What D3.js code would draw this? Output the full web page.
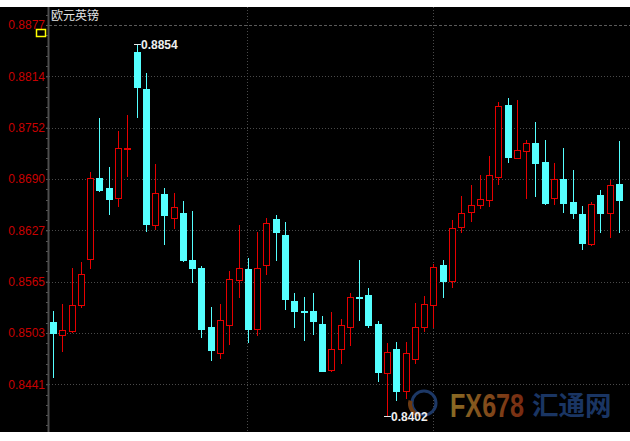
<!DOCTYPE html>
<html>
<head>
<meta charset="utf-8">
<script src="https://cdn.jsdelivr.net/npm/d3@7"></script>
<style>
  html, body { margin: 0; padding: 0; background: #ffffff; }
  svg { display: block; }
</style>
</head>
<body>
<div id="chart"></div>
<script>
// ---- data ----
const title = "欧元英镑";
const opens  = [0.8516,0.8501,0.8505,0.8537,0.8593,0.8691,0.8679,0.8667,0.8727,0.8844,
                0.8799,0.8634,0.8671,0.8642,0.8649,0.8592,0.8582,0.8510,0.8479,0.8512,
                0.8567,0.8580,0.8508,0.8585,0.8641,0.8622,0.8542,0.8530,0.8530,0.8514,
                0.8458,0.8483,0.8510,0.8546,0.8549,0.8514,0.8454,0.8483,0.8433,0.8471,
                0.8510,0.8537,0.8586,0.8566,0.8632,0.8650,0.8658,0.8664,0.8692,0.8779,
                0.8715,0.8724,0.8733,0.8710,0.8667,0.8690,0.8662,0.8647,0.8611,0.8670,
                0.8649,0.8684];
const highs  = [0.8530,0.8538,0.8582,0.8589,0.8698,0.8764,0.8704,0.8748,0.8768,0.8854,
                0.8818,0.8708,0.8679,0.8673,0.8663,0.8651,0.8584,0.8534,0.8538,0.8578,
                0.8634,0.8594,0.8626,0.8642,0.8646,0.8638,0.8551,0.8546,0.8551,0.8523,
                0.8528,0.8520,0.8551,0.8592,0.8557,0.8518,0.8491,0.8492,0.8492,0.8539,
                0.8548,0.8587,0.8592,0.8640,0.8669,0.8683,0.8695,0.8718,0.8783,0.8788,
                0.8786,0.8737,0.8759,0.8737,0.8709,0.8727,0.8701,0.8657,0.8662,0.8676,
                0.8688,0.8736];
const lows   = [0.8450,0.8481,0.8504,0.8534,0.8582,0.8675,0.8647,0.8657,0.8694,0.8765,
                0.8627,0.8629,0.8611,0.8630,0.8590,0.8565,0.8498,0.8470,0.8473,0.8490,
                0.8546,0.8492,0.8500,0.8574,0.8592,0.8532,0.8510,0.8494,0.8502,0.8457,
                0.8457,0.8466,0.8488,0.8519,0.8510,0.8445,0.8402,0.8422,0.8424,0.8466,
                0.8505,0.8510,0.8547,0.8559,0.8626,0.8639,0.8655,0.8657,0.8684,0.8710,
                0.8715,0.8667,0.8669,0.8660,0.8659,0.8650,0.8643,0.8605,0.8610,0.8625,
                0.8619,0.8625];
const closes = [0.8503,0.8506,0.8537,0.8574,0.8691,0.8676,0.8665,0.8727,0.8728,0.8801,
                0.8635,0.8673,0.8646,0.8656,0.8591,0.8582,0.8508,0.8482,0.8519,0.8568,
                0.8582,0.8508,0.8582,0.8636,0.8625,0.8544,0.8530,0.8529,0.8518,0.8457,
                0.8483,0.8512,0.8547,0.8545,0.8513,0.8455,0.8480,0.8432,0.8478,0.8510,
                0.8538,0.8583,0.8566,0.8630,0.8649,0.8658,0.8665,0.8695,0.8778,0.8717,
                0.8725,0.8734,0.8709,0.8661,0.8690,0.8661,0.8649,0.8612,0.8659,0.8649,
                0.8683,0.8664];
const categories = opens.map((d, i) => i + 1);
const tickValues = [0.88767, 0.88144, 0.87521, 0.86898, 0.86275, 0.85652, 0.85029, 0.84406];
const tickLabels = ["0.8877", "0.8814", "0.8752", "0.8690", "0.8627", "0.8565", "0.8503", "0.8441"];

// ---- layout ----
const W = 630, H = 441;
const plotTop = 7, plotBottom = 432, axisX = 49;
const UP = "#e60000", DOWN = "#55ffff";

const svg = d3.select("#chart").append("svg")
  .attr("width", W).attr("height", H);

svg.append("rect").attr("x", 0).attr("y", 0).attr("width", W).attr("height", H).attr("fill", "#ffffff");
svg.append("rect").attr("x", 0).attr("y", plotTop).attr("width", W).attr("height", plotBottom - plotTop).attr("fill", "#000000");

const y = d3.scaleLinear().domain([0.84406, 0.88767]).range([384.3, 25]);
const x = d3.scalePoint().domain(categories).range([53, 619]);

// minor ticks on axis
const step = (tickValues[0] - tickValues[1]) / 5;
const minor = [];
for (let v = tickValues[0] + 3 * step; y(v) < plotBottom; v -= step) minor.push(v);
svg.append("g").selectAll("line").data(minor.filter(v => y(v) > plotTop)).join("line")
  .attr("x1", axisX - 3).attr("x2", axisX)
  .attr("y1", d => Math.round(y(d)) + 0.5).attr("y2", d => Math.round(y(d)) + 0.5)
  .attr("stroke", "#555").attr("stroke-width", 1);

// horizontal grid
svg.append("g").selectAll("line").data(tickValues).join("line")
  .attr("x1", axisX).attr("x2", W)
  .attr("y1", d => Math.round(y(d)) + 0.5).attr("y2", d => Math.round(y(d)) + 0.5)
  .attr("stroke", (d, i) => i === 0 ? "#5a5a5a" : "#4a4a4a")
  .attr("stroke-dasharray", (d, i) => i === 0 ? "3,2" : "1,2");

// vertical grid
svg.append("g").selectAll("line").data([247.5, 433.5]).join("line")
  .attr("x1", d => d).attr("x2", d => d)
  .attr("y1", plotTop).attr("y2", plotBottom)
  .attr("stroke", "#4a4a4a").attr("stroke-dasharray", "1,2");

// y axis
const axis = d3.axisLeft(y).tickValues(tickValues).tickSize(3).tickPadding(1)
  .tickFormat((d, i) => tickLabels[i]);
const gAxis = svg.append("g").attr("transform", `translate(${axisX},0)`).call(axis);
gAxis.select(".domain").remove();
gAxis.selectAll(".tick line").attr("stroke", "#555");
gAxis.selectAll(".tick text")
  .attr("fill", "#c80000")
  .attr("font-family", "'Liberation Sans', Arial, sans-serif")
  .attr("font-size", 12);
svg.append("line").attr("x1", axisX - 0.5).attr("x2", axisX - 0.5)
  .attr("y1", plotTop).attr("y2", plotBottom)
  .attr("stroke", "#4d4d4d").attr("stroke-width", 2);

// yellow marker
svg.append("rect").attr("x", 36.5).attr("y", 29.5).attr("width", 9).attr("height", 7)
  .attr("fill", "none").attr("stroke", "#ffff00").attr("stroke-width", 1.5);

// title
svg.append("text").attr("x", 51).attr("y", 19.5)
  .attr("fill", "#e6e6e6")
  .attr("font-family", "'Noto Sans CJK SC', sans-serif")
  .attr("font-size", 12)
  .text(title);

// watermark
const defs = svg.append("defs");
const grad = defs.append("linearGradient").attr("id", "wm").attr("x1", "0%").attr("x2", "100%");
grad.append("stop").attr("offset", "0%").attr("stop-color", "#8a6c24");
grad.append("stop").attr("offset", "100%").attr("stop-color", "#782a11");
const wm = svg.append("g");
wm.append("circle").attr("cx", 424).attr("cy", 403).attr("r", 12)
  .attr("fill", "none").attr("stroke", "#1d3866").attr("stroke-width", 3);
wm.append("path")
  .attr("d", d3.arc()({innerRadius: 9, outerRadius: 13, startAngle: Math.PI * 1.05, endAngle: Math.PI * 1.6}))
  .attr("transform", "translate(421,404)").attr("fill", "#6b3a12");
wm.append("text")
  .attr("transform", "translate(450,417) scale(0.74,1)")
  .attr("font-family", "'Liberation Sans', Arial, sans-serif").attr("font-weight", "bold")
  .attr("font-size", 34)
  .attr("fill", "url(#wm)").text("FX678");
wm.append("text").attr("x", 532).attr("y", 415)
  .attr("font-family", "'Noto Sans CJK SC', sans-serif").attr("font-weight", "bold")
  .attr("font-size", 26.5)
  .attr("fill", "#1a3563").text("汇通网");

// candles
const data = categories.map((c, i) => ({c, o: opens[i], h: highs[i], l: lows[i], cl: closes[i]}));
const g = svg.append("g").attr("shape-rendering", "crispEdges");
const cand = g.selectAll("g").data(data).join("g");
cand.append("line")
  .attr("x1", d => Math.round(x(d.c)) + 0.5).attr("x2", d => Math.round(x(d.c)) + 0.5)
  .attr("y1", d => Math.round(y(d.h))).attr("y2", d => Math.round(y(d.l)) + 1)
  .attr("stroke", d => d.cl >= d.o ? UP : DOWN).attr("stroke-width", 1);
cand.append("rect")
  .attr("x", d => d.cl >= d.o ? Math.round(x(d.c)) - 3 + 0.5 : Math.round(x(d.c)) - 3)
  .attr("y", d => {
    const t = Math.round(y(Math.max(d.o, d.cl)));
    return d.cl >= d.o ? t + 0.5 : t;
  })
  .attr("width", d => d.cl >= d.o ? 6 : 7)
  .attr("height", d => {
    const t = Math.round(y(Math.max(d.o, d.cl)));
    const b = Math.round(y(Math.min(d.o, d.cl)));
    return d.cl >= d.o ? Math.max(1, b - t) : Math.max(2, b - t + 1);
  })
  .attr("fill", d => d.cl >= d.o ? "#000000" : DOWN)
  .attr("stroke", d => d.cl >= d.o ? UP : "none")
  .attr("stroke-width", 1);

// max / min annotations
const maxD = data.reduce((a, b) => b.h > a.h ? b : a);
const minD = data.reduce((a, b) => b.l < a.l ? b : a);
[[maxD, maxD.h], [minD, minD.l]].forEach(([d, v]) => {
  const cx = Math.round(x(d.c));
  const yy = Math.round(y(v)) + 0.5;
  svg.append("line").attr("x1", cx - 3).attr("x2", cx + 4).attr("y1", yy).attr("y2", yy)
    .attr("stroke", "#e8e8e8").attr("stroke-width", 1);
  svg.append("text").attr("x", cx + 4).attr("y", yy).attr("dy", "0.36em")
    .attr("fill", "#eeeeee")
    .attr("font-family", "'Liberation Sans', Arial, sans-serif")
    .attr("font-weight", "bold").attr("font-size", 12)
    .text(d3.format(".4f")(v));
});
</script>
</body>
</html>
